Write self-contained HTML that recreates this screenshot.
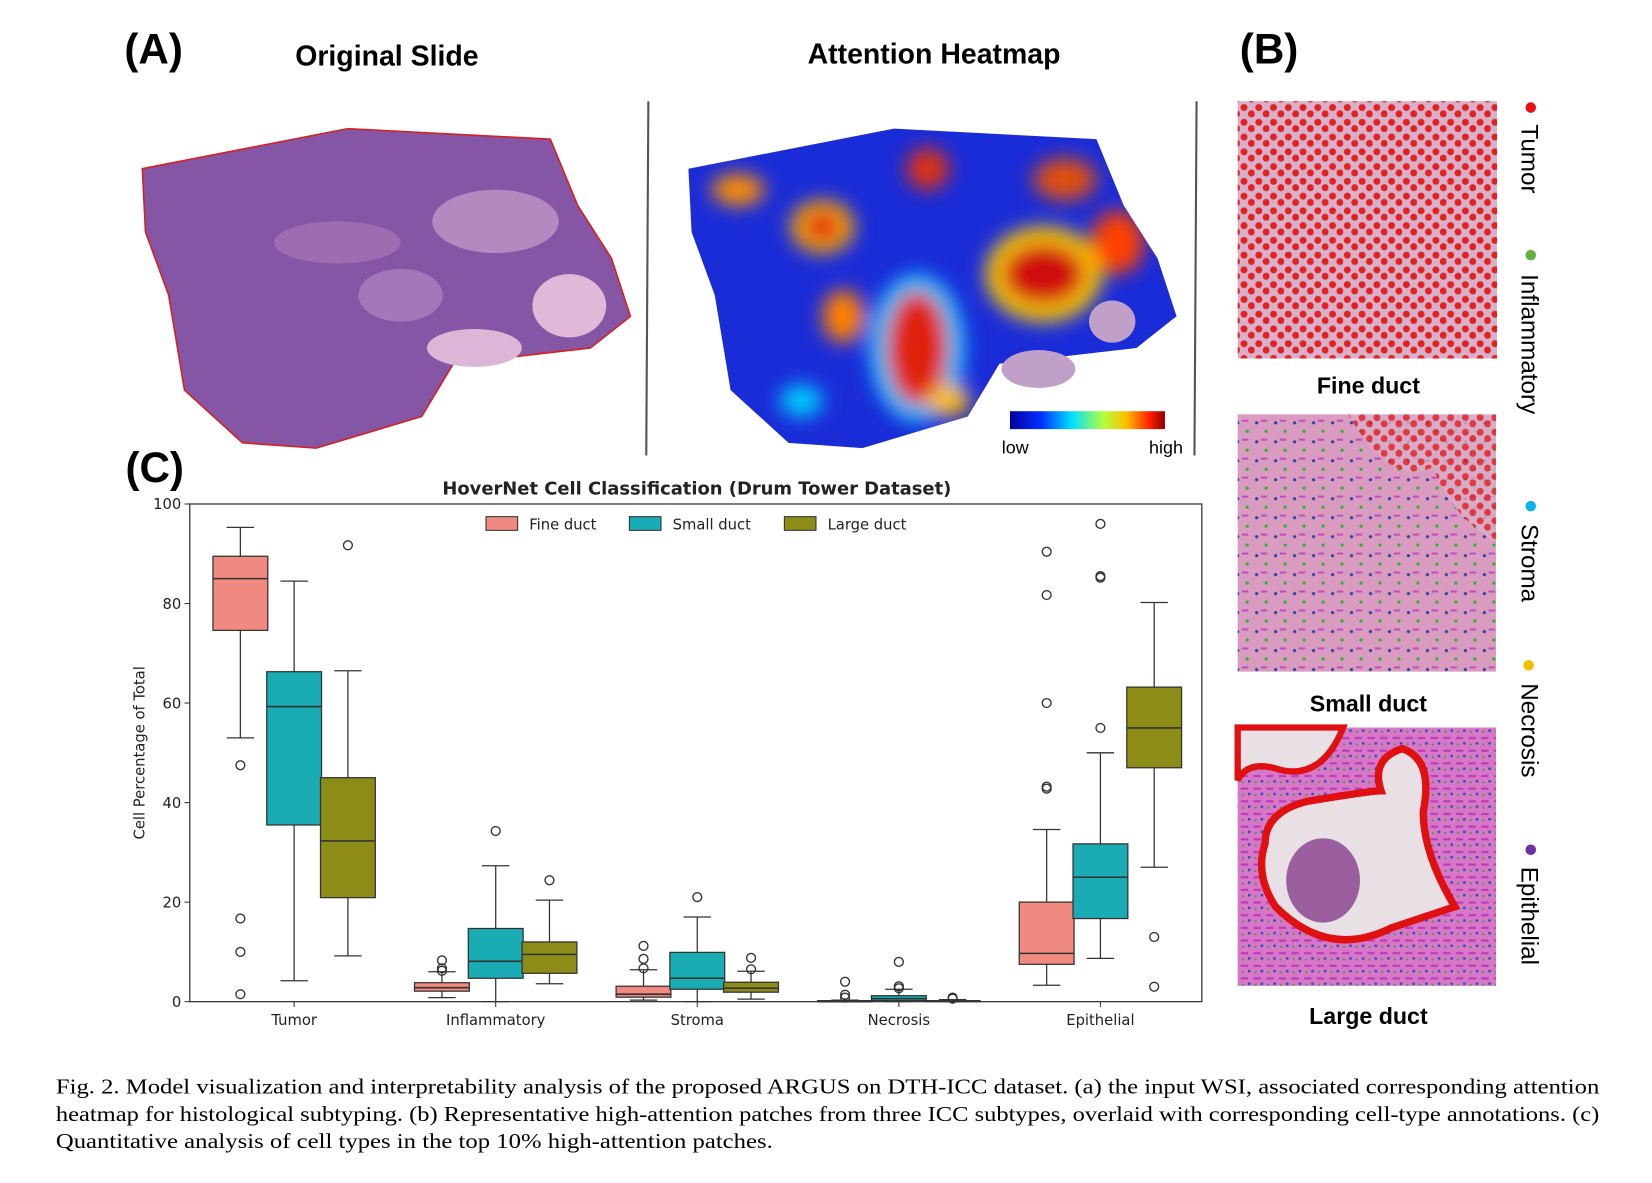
<!DOCTYPE html>
<html><head><meta charset="utf-8"><style>
html,body{margin:0;padding:0;background:#fff;width:1652px;height:1183px;overflow:hidden}
svg{display:block}
.h{font-family:"Liberation Sans",sans-serif;font-weight:bold;fill:#000}
.c{font-family:"DejaVu Sans","Liberation Sans",sans-serif;fill:#222}
.cap{font-family:"Liberation Serif",serif;font-size:20px;fill:#000}
</style></head><body>
<svg id="root" width="1652" height="1183" viewBox="0 0 1567 1122" preserveAspectRatio="none" xmlns="http://www.w3.org/2000/svg">
<defs>
<pattern id="pFine" width="14" height="14" patternUnits="userSpaceOnUse"><rect width="14" height="14" fill="#d8b0c8"/><circle cx="4" cy="4" r="3.3" fill="#e42020"/><circle cx="11" cy="10" r="3.3" fill="#e42020"/></pattern>
<pattern id="pSmall" width="18" height="18" patternUnits="userSpaceOnUse"><rect width="18" height="18" fill="#d99bbf"/><circle cx="4" cy="5" r="1.5" fill="#2840a0"/><circle cx="13" cy="13" r="1.5" fill="#30b030"/><rect x="8" y="2" width="6" height="2" fill="#c050c0"/></pattern>
<pattern id="pLarge" width="12" height="12" patternUnits="userSpaceOnUse"><rect width="12" height="12" fill="#d876c8"/><rect x="1" y="3" width="7" height="2" fill="#b83cb8"/><circle cx="9" cy="9" r="1.3" fill="#2a50b0"/><circle cx="3" cy="10" r="1" fill="#30a040"/></pattern>
<filter id="blur" x="-50%" y="-50%" width="200%" height="200%"><feGaussianBlur stdDeviation="9"/></filter>
<linearGradient id="cbar" x1="0" x2="1"><stop offset="0" stop-color="#0000a0"/><stop offset="0.2" stop-color="#0030ff"/><stop offset="0.4" stop-color="#00e0ff"/><stop offset="0.6" stop-color="#b0ff40"/><stop offset="0.75" stop-color="#ffc000"/><stop offset="0.9" stop-color="#ff2000"/><stop offset="1" stop-color="#900000"/></linearGradient>
<clipPath id="heatClip"><polygon points="653,160 848,122 1040,132 1066,195 1098,245 1116,300 1078,330 948,345 918,395 818,425 748,420 693,370 678,280 656,220"/></clipPath>
</defs>

<text class="h" x="118" y="60" font-size="40">(A)</text>
<text class="h" x="367" y="62" font-size="27" text-anchor="middle">Original Slide</text>
<text class="h" x="886" y="60" font-size="27" text-anchor="middle">Attention Heatmap</text>
<text class="h" x="1176" y="60" font-size="40">(B)</text>

<g>
<line x1="615" y1="96" x2="613" y2="432" stroke="#555" stroke-width="2"/>
<polygon points="135,160 330,122 522,132 548,195 580,245 598,300 560,330 430,345 400,395 300,425 230,420 175,370 160,280 138,220" fill="#8656a6" stroke="#d42020" stroke-width="1.5"/>
<ellipse cx="470" cy="210" rx="60" ry="30" fill="#c8a0cc" opacity="0.7"/>
<ellipse cx="540" cy="290" rx="35" ry="30" fill="#e0b8d8"/>
<ellipse cx="450" cy="330" rx="45" ry="18" fill="#dcb6d6"/>
<ellipse cx="320" cy="230" rx="60" ry="20" fill="#a678b8" opacity="0.7"/>
<ellipse cx="380" cy="280" rx="40" ry="25" fill="#b088c0" opacity="0.7"/>
</g>

<g>
<line x1="1135" y1="96" x2="1133" y2="432" stroke="#555" stroke-width="2"/>
<polygon points="653,160 848,122 1040,132 1066,195 1098,245 1116,300 1078,330 948,345 918,395 818,425 748,420 693,370 678,280 656,220" fill="#1a2cd8"/>
<g clip-path="url(#heatClip)" filter="url(#blur)">
<ellipse cx="870" cy="330" rx="45" ry="70" fill="#00c8ff"/>
<ellipse cx="870" cy="330" rx="30" ry="55" fill="#e02010"/>
<ellipse cx="990" cy="260" rx="55" ry="45" fill="#ffd000"/>
<ellipse cx="990" cy="260" rx="40" ry="30" fill="#d01010"/>
<ellipse cx="780" cy="215" rx="30" ry="25" fill="#ffb000"/>
<ellipse cx="780" cy="215" rx="18" ry="15" fill="#e02010"/>
<ellipse cx="880" cy="160" rx="20" ry="20" fill="#e03010"/>
<ellipse cx="800" cy="300" rx="20" ry="25" fill="#ff8000"/>
<ellipse cx="700" cy="180" rx="25" ry="15" fill="#ff9000"/>
<ellipse cx="1010" cy="170" rx="30" ry="20" fill="#e05010"/>
<ellipse cx="1060" cy="230" rx="25" ry="30" fill="#ff4000"/>
<ellipse cx="900" cy="380" rx="20" ry="15" fill="#ffc000"/>
<ellipse cx="760" cy="380" rx="20" ry="15" fill="#00d0ff"/>
</g>
<ellipse cx="985" cy="350" rx="35" ry="18" fill="#c0a0c8"/>
<ellipse cx="1055" cy="305" rx="22" ry="20" fill="#c0a0c8"/>
<rect x="958" y="390" width="147" height="17" fill="url(#cbar)"/>
<text x="963" y="430" font-family="Liberation Sans,sans-serif" font-size="17" text-anchor="middle">low</text>
<text x="1106" y="430" font-family="Liberation Sans,sans-serif" font-size="17" text-anchor="middle">high</text>
</g>

<g>
<rect x="1174" y="96" width="246" height="244" fill="url(#pFine)"/>
<rect x="1174" y="393" width="245" height="244" fill="url(#pSmall)"/>
<path d="M1174,393 h245 v120 q-40,-20 -60,-70 q-40,20 -80,-50z" fill="url(#pFine)" opacity="0.8"/>
<rect x="1174" y="690" width="245" height="245" fill="url(#pLarge)"/>
<path d="M1200,800 q0,-30 40,-40 q60,-10 70,-10 q-10,-30 20,-40 q30,10 20,60 q0,40 30,90 q-30,10 -60,20 q-60,30 -110,-20 q-20,-30 -10,-60z" fill="#e8e0e4" stroke="#e01010" stroke-width="7"/>
<path d="M1174,690 h100 q-20,50 -60,40 q-30,-10 -40,10z" fill="#e8e0e4" stroke="#e01010" stroke-width="6"/>
<ellipse cx="1255" cy="835" rx="35" ry="40" fill="#9b5e9e"/>
<text class="h" x="1298" y="373" font-size="22" text-anchor="middle">Fine duct</text>
<text class="h" x="1298" y="675" font-size="22" text-anchor="middle">Small duct</text>
<text class="h" x="1298" y="971" font-size="22" text-anchor="middle">Large duct</text>
</g>

<g font-family="Liberation Sans,sans-serif" font-size="23">
<circle cx="1452" cy="102" r="5" fill="#e81010"/><text transform="translate(1443,118) rotate(90)">Tumor</text>
<circle cx="1452" cy="242" r="5" fill="#60b040"/><text transform="translate(1443,260) rotate(90)">Inflammatory</text>
<circle cx="1452" cy="480" r="5" fill="#10b0e8"/><text transform="translate(1443,497) rotate(90)">Stroma</text>
<circle cx="1450" cy="631" r="5" fill="#f0c000"/><text transform="translate(1443,648) rotate(90)">Necrosis</text>
<circle cx="1452" cy="806" r="5" fill="#7030a0"/><text transform="translate(1443,822) rotate(90)">Epithelial</text>
</g>

<text class="h" x="119" y="457" font-size="40">(C)</text>
<g id="chart"></g>

<g>
<text class="cap" x="53" y="1037" textLength="1464" lengthAdjust="spacingAndGlyphs">Fig. 2.  Model visualization and interpretability analysis of the proposed ARGUS on DTH-ICC dataset. (a) the input WSI, associated corresponding attention</text>
<text class="cap" x="53" y="1063" textLength="1464" lengthAdjust="spacingAndGlyphs">heatmap for histological subtyping. (b) Representative high-attention patches from three ICC subtypes, overlaid with corresponding cell-type annotations. (c)</text>
<text class="cap" x="53" y="1089" textLength="680" lengthAdjust="spacingAndGlyphs">Quantitative analysis of cell types in the top 10% high-attention patches.</text>
</g>
</svg>
<script>
const categories = ["Tumor","Inflammatory","Stroma","Necrosis","Epithelial"];
const seriesNames = ["Fine duct","Small duct","Large duct"];
const yTicks = [0,20,40,60,80,100];
// [whiskerLow, q1, median, q3, whiskerHigh] per category
const fineStats = [[53,74.6,85,89.5,95.3],[0.8,2.1,2.8,3.8,6],[0.3,0.9,1.5,3.1,6.4],[0,0,0,0.2,0.3],[3.3,7.5,9.7,20,34.6]];
const smallStats = [[4.2,35.5,59.3,66.3,84.5],[0,4.7,8.1,14.7,27.3],[0,2.5,4.7,9.9,17],[0,0.2,0.6,1.2,2.5],[8.7,16.7,25,31.7,50]];
const largeStats = [[9.2,20.9,32.3,45,66.5],[3.6,5.7,9.5,12,20.4],[0.5,1.9,2.7,3.9,6.1],[0,0,0.1,0.2,0.4],[27,47,55,63.2,80.2]];
const fineOutliers = [[47.5,16.7,10,1.5],[6.2,6.7,8.3],[6.7,8.6,11.2],[0.8,1.4,4],[42.8,43.2,60,81.7,90.4]];
const smallOutliers = [[],[34.3],[21],[2.7,3.1,8],[55,85.2,85.5,96]];
const largeOutliers = [[91.7],[24.4],[6.5,8.8],[0.6,0.8],[13,3]];
const colors = ["#f08a80","#1aacb4","#8c8c16"];

const NS="http://www.w3.org/2000/svg";
const g=document.getElementById('chart');
const X0=180,X1=1140,Y0=950,Y1=478;
const y=v=>Y0-(v/100)*(Y0-Y1);
const xc=i=>279+i*191.2;
const off=[-51,0,51], BW=52;
function mk(t,a,p){const e=document.createElementNS(NS,t);for(const k in a)e.setAttribute(k,a[k]);(p||g).appendChild(e);return e;}

const title=mk('text',{x:661,y:469,'text-anchor':'middle','font-size':17,'font-weight':'bold',class:'c'});
title.textContent="HoverNet Cell Classification (Drum Tower Dataset)";


const frame=mk('rect',{x:X0,y:Y1,width:X1-X0,height:Y0-Y1,fill:'none',stroke:'#333','stroke-width':1.2});


yTicks.forEach(t=>{
  mk('line',{x1:X0-5,x2:X0,y1:y(t),y2:y(t),stroke:'#333'});
  const tx=mk('text',{x:X0-8,y:y(t)+5,'text-anchor':'end','font-size':14,class:'c'});tx.textContent=t;
  
  
});
const yl=mk('text',{transform:'translate(137,714) rotate(-90)','text-anchor':'middle','font-size':14,class:'c'});
yl.textContent="Cell Percentage of Total";


categories.forEach((c,i)=>{
  mk('line',{x1:xc(i),x2:xc(i),y1:Y0,y2:Y0+5,stroke:'#333'});
  const tx=mk('text',{x:xc(i),y:Y0+22,'text-anchor':'middle','font-size':14,class:'c'});tx.textContent=c;
  
  
});
const stats=[fineStats,smallStats,largeStats], outs=[fineOutliers,smallOutliers,largeOutliers];
stats.forEach((S,s)=>{
  S.forEach((d,i)=>{
    const cx=xc(i)+off[s];
    const bg=mk('g',{});
    
    
    mk('line',{x1:cx,x2:cx,y1:y(d[0]),y2:y(d[1]),stroke:'#333','stroke-width':1.2},bg);
    mk('line',{x1:cx,x2:cx,y1:y(d[3]),y2:y(d[4]),stroke:'#333','stroke-width':1.2},bg);
    mk('line',{x1:cx-13,x2:cx+13,y1:y(d[0]),y2:y(d[0]),stroke:'#333','stroke-width':1.2},bg);
    mk('line',{x1:cx-13,x2:cx+13,y1:y(d[4]),y2:y(d[4]),stroke:'#333','stroke-width':1.2},bg);
    mk('rect',{x:cx-BW/2,y:y(d[3]),width:BW,height:Math.max(0.5,y(d[1])-y(d[3])),fill:colors[s],stroke:'#333','stroke-width':1.2},bg);
    mk('line',{x1:cx-BW/2,x2:cx+BW/2,y1:y(d[2]),y2:y(d[2]),stroke:'#333','stroke-width':1.5},bg);
    outs[s][i].forEach(o=>{
      const c=mk('circle',{cx:cx,cy:y(o),r:4.2,fill:'none',stroke:'#333','stroke-width':1.3},bg);
      
      
    });
  });
});
const lx=[461,597,744];
seriesNames.forEach((n,s)=>{
  const lg=mk('g',{});
  
  
  mk('rect',{x:lx[s],y:490,width:30,height:13,fill:colors[s],stroke:'#333'},lg);
  const t=mk('text',{x:lx[s]+41,y:502,'font-size':14,class:'c'},lg);t.textContent=n;
});
</script>
</body></html>
